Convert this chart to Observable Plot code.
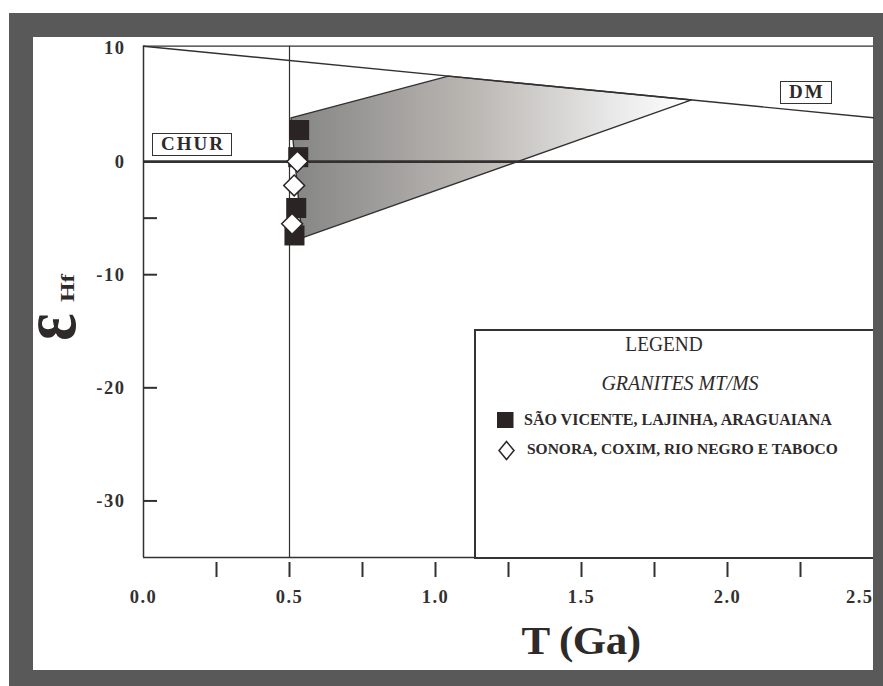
<!DOCTYPE html>
<html>
<head>
<meta charset="utf-8">
<script src="https://cdn.jsdelivr.net/npm/d3@7"></script>
<script src="https://cdn.jsdelivr.net/npm/@observablehq/plot@0.6"></script>
<style>
  body { margin: 0; background: #fff; }
  #page { position: relative; width: 883px; height: 686px; overflow: hidden;
          font-family: "Liberation Serif", "Times New Roman", serif; color: #2e2a2a; }
  .frame { position: absolute; left: 9px; top: 13px; width: 874px; height: 673px; background: #595959; }
  .panel { position: absolute; left: 33px; top: 37px; width: 840px; height: 633px; background: #fff; }
  #chart { position: absolute; left: 0; top: 0; }
  #chart text { letter-spacing: 1.5px; }
  .tag { position: absolute; box-sizing: border-box; border: 1.6px solid #333; background: #fff;
         font-weight: bold; font-size: 19px; letter-spacing: 2px; text-align: center;
         line-height: 20px; height: 23px; padding-left: 2px; }
  .legend { position: absolute; left: 474px; top: 329px; width: 399px; height: 230px;
            box-sizing: border-box; border: 2px solid #353232; border-right: none; background: #fff; }
  .lg { position: absolute; white-space: nowrap; line-height: 1; }
  .xtitle { position: absolute; font-weight: bold; font-size: 41px; white-space: nowrap;
            transform: translate(-50%, -50%) scale(1.05, 1); letter-spacing: -0.5px; }
  .rot { position: absolute; white-space: nowrap; font-weight: bold; line-height: 1; }
</style>
</head>
<body>
<div id="page">
  <div class="frame"></div>
  <div class="panel"></div>
  <div id="chart"></div>
</div>
<script>
// Hf isotope evolution of the MT/MS granites: εHf(t) versus time (Ga)
const groupA = "SÃO VICENTE, LAJINHA, ARAGUAIANA";
const groupB = "SONORA, COXIM, RIO NEGRO E TABOCO";

// São Vicente, Lajinha, Araguaiana samples
const ageA = [0.533, 0.530, 0.523, 0.517];
const epsA = [2.79, 0.39, -4.10, -6.53];

// Sonora, Coxim, Rio Negro e Taboco samples
const ageB = [0.527, 0.516, 0.509];
const epsB = [0.0, -2.11, -5.5];

// depleted-mantle reference line
const dmAge = [0, 2.5];
const dmEps = [10.2, 3.87];

// shaded model-age field back to the DM curve
const fieldAge = [0.505, 1.044, 1.877, 0.543];
const fieldEps = [3.87, 7.55, 5.45, -6.74];

// axis ticks
const xMinorTicks = [0.25, 0.5, 0.75, 1.0, 1.25, 1.5, 1.75, 2.0, 2.25];
const xLabelValues = [0, 0.5, 1.0, 1.5, 2.0, 2.5];
const xLabelText = ["0.0", "0.5", "1.0", "1.5", "2.0", "2.5"];
const yMinorTicks = [-5, -10, -20, -30];
const yLabelValues = [10, 0, -10, -20, -30];

const ink = "#333030";
const markFill = "#2b2424";
const serif = '"Liberation Serif", "Times New Roman", serif';

const pointsA = ageA.map((t, i) => ({t, e: epsA[i]}));
const pointsB = ageB.map((t, i) => ({t, e: epsB[i]}));
const dm = dmAge.map((t, i) => ({t, e: dmEps[i]}));
const field = fieldAge.map((t, i) => ({t, e: fieldEps[i]}));
const xLabels = xLabelValues.map((v, i) => ({v, s: xLabelText[i]}));
const lastLabel = xLabels.length - 1;

const W = 883, H = 686;
const mL = 143, mR = 10, mT = 45.7, mB = 129;
const frameW = W - mL - mR;

// horizontal grey gradient used for the model-age field
function fieldGradient(index, scales) {
  const g = d3.create("svg:defs");
  const lg = g.append("linearGradient")
    .attr("id", "hf-field")
    .attr("gradientUnits", "userSpaceOnUse")
    .attr("x1", scales.x(d3.min(fieldAge))).attr("x2", scales.x(d3.max(fieldAge)))
    .attr("y1", 0).attr("y2", 0);
  lg.append("stop").attr("offset", 0).attr("stop-color", "#858585");
  lg.append("stop").attr("offset", 0.45).attr("stop-color", "#bab6b2");
  lg.append("stop").attr("offset", 0.8).attr("stop-color", "#e8e8e8");
  lg.append("stop").attr("offset", 1).attr("stop-color", "#ffffff");
  return g.node();
}

const chart = Plot.plot({
  width: W, height: H,
  marginLeft: mL, marginRight: mR, marginTop: mT, marginBottom: mB,
  x: {domain: [0, 2.5], axis: null},
  y: {domain: [-35, 10.2], axis: null},
  style: {background: "transparent", overflow: "visible", fontFamily: serif, color: ink},
  marks: [
    fieldGradient,
    Plot.line(field, {x: "t", y: "e", curve: "linear-closed", fill: "url(#hf-field)", stroke: ink, strokeWidth: 1.4}),
    // frame
    Plot.ruleX([0], {stroke: ink, strokeWidth: 1.5}),
    Plot.ruleY([10.2], {stroke: ink, strokeWidth: 1.3}),
    Plot.ruleY([-35], {stroke: ink, strokeWidth: 1.3}),
    // T = 0.5 Ga reference
    Plot.ruleX([0.5], {stroke: ink, strokeWidth: 1.2}),
    // CHUR
    Plot.ruleY([0], {stroke: ink, strokeWidth: 2.6}),
    // DM
    Plot.line(dm, {x: "t", y: "e", stroke: ink, strokeWidth: 1.4}),
    // y ticks (inward) and labels
    Plot.tickY(yMinorTicks, {y: d => d, insetRight: frameW - 14, stroke: ink, strokeWidth: 2}),
    Plot.text(yLabelValues, {y: d => d, text: d => String(d), frameAnchor: "left", dx: -18,
      textAnchor: "end", fontSize: 18.5, fontWeight: "bold", fill: ink}),
    // x ticks below the frame and labels
    Plot.axisX(xMinorTicks, {anchor: "bottom", tickSize: 15, dy: 5, tickFormat: () => "",
      stroke: ink, strokeWidth: 2}),
    Plot.text(xLabels.filter((d, i) => i < lastLabel), {x: "v", text: "s", frameAnchor: "bottom", dy: 45,
      fontSize: 18.5, fontWeight: "bold", fill: ink}),
    Plot.text(xLabels.filter((d, i) => i === lastLabel), {x: "v", text: "s", frameAnchor: "bottom", dy: 45,
      textAnchor: "end", fontSize: 18.5, fontWeight: "bold", fill: ink}),
    // samples
    Plot.dot(pointsA, {x: "t", y: "e", symbol: "square", r: 11.3, fill: markFill, stroke: "none"}),
    Plot.dot(pointsB, {x: "t", y: "e", symbol: "diamond2", r: 9.4, fill: "#fff", stroke: markFill, strokeWidth: 1.5})
  ]
});

const page = document.getElementById("page");
document.getElementById("chart").append(chart);
const sx = chart.scale("x"), sy = chart.scale("y");

function add(html) {
  const t = document.createElement("template");
  t.innerHTML = html.trim();
  const el = t.content.firstChild;
  page.append(el);
  return el;
}

// reservoir tags
const chur = add(`<div class="tag">CHUR</div>`);
chur.style.width = "80px";
chur.style.left = (sx.apply(0.168) - 40) + "px";
chur.style.top = (sy.apply(1.47) - 11.5) + "px";

const dmTag = add(`<div class="tag">DM</div>`);
dmTag.style.width = "52px";
dmTag.style.left = (sx.apply(2.27) - 26) + "px";
dmTag.style.top = (sy.apply(6.05) - 11.5) + "px";

// axis titles
const xt = add(`<div class="xtitle">T (Ga)</div>`);
xt.style.left = sx.apply(1.5) + "px";
xt.style.top = "640px";
add(`<div class="rot" style="left:49px;top:327px;font-size:58px;transform:translate(-50%,-50%) rotate(-90deg) scale(1.1,1.35);">ε</div>`);
add(`<div class="rot" style="left:67.5px;top:288px;font-size:18px;transform:translate(-50%,-50%) rotate(-90deg) scale(1.4,1);">Hf</div>`);

// legend
add(`<div class="legend"></div>`);
add(`<div class="lg" style="left:664px;top:344px;transform:translate(-50%,-50%) scale(0.92,1);font-size:21px;">LEGEND</div>`);
add(`<div class="lg" style="left:680px;top:383px;transform:translate(-50%,-50%);font-size:20px;font-style:italic;">GRANITES MT/MS</div>`);
add(`<svg class="lg" style="left:497px;top:412px" width="17" height="17"><rect x="0" y="0" width="16.5" height="16" fill="${markFill}"/></svg>`);
const la = add(`<div class="lg" style="left:524px;top:420px;transform:translateY(-50%);font-size:16px;font-weight:bold;"></div>`);
la.textContent = groupA;
add(`<svg class="lg" style="left:497px;top:440px" width="19" height="21"><path d="M9.5,1.5 L17,10.5 L9.5,19.5 L2,10.5 Z" fill="#fff" stroke="${markFill}" stroke-width="1.5"/></svg>`);
const lb = add(`<div class="lg" style="left:527px;top:449px;transform:translateY(-50%);font-size:15.5px;font-weight:bold;"></div>`);
lb.textContent = groupB;
</script>
</body>
</html>
